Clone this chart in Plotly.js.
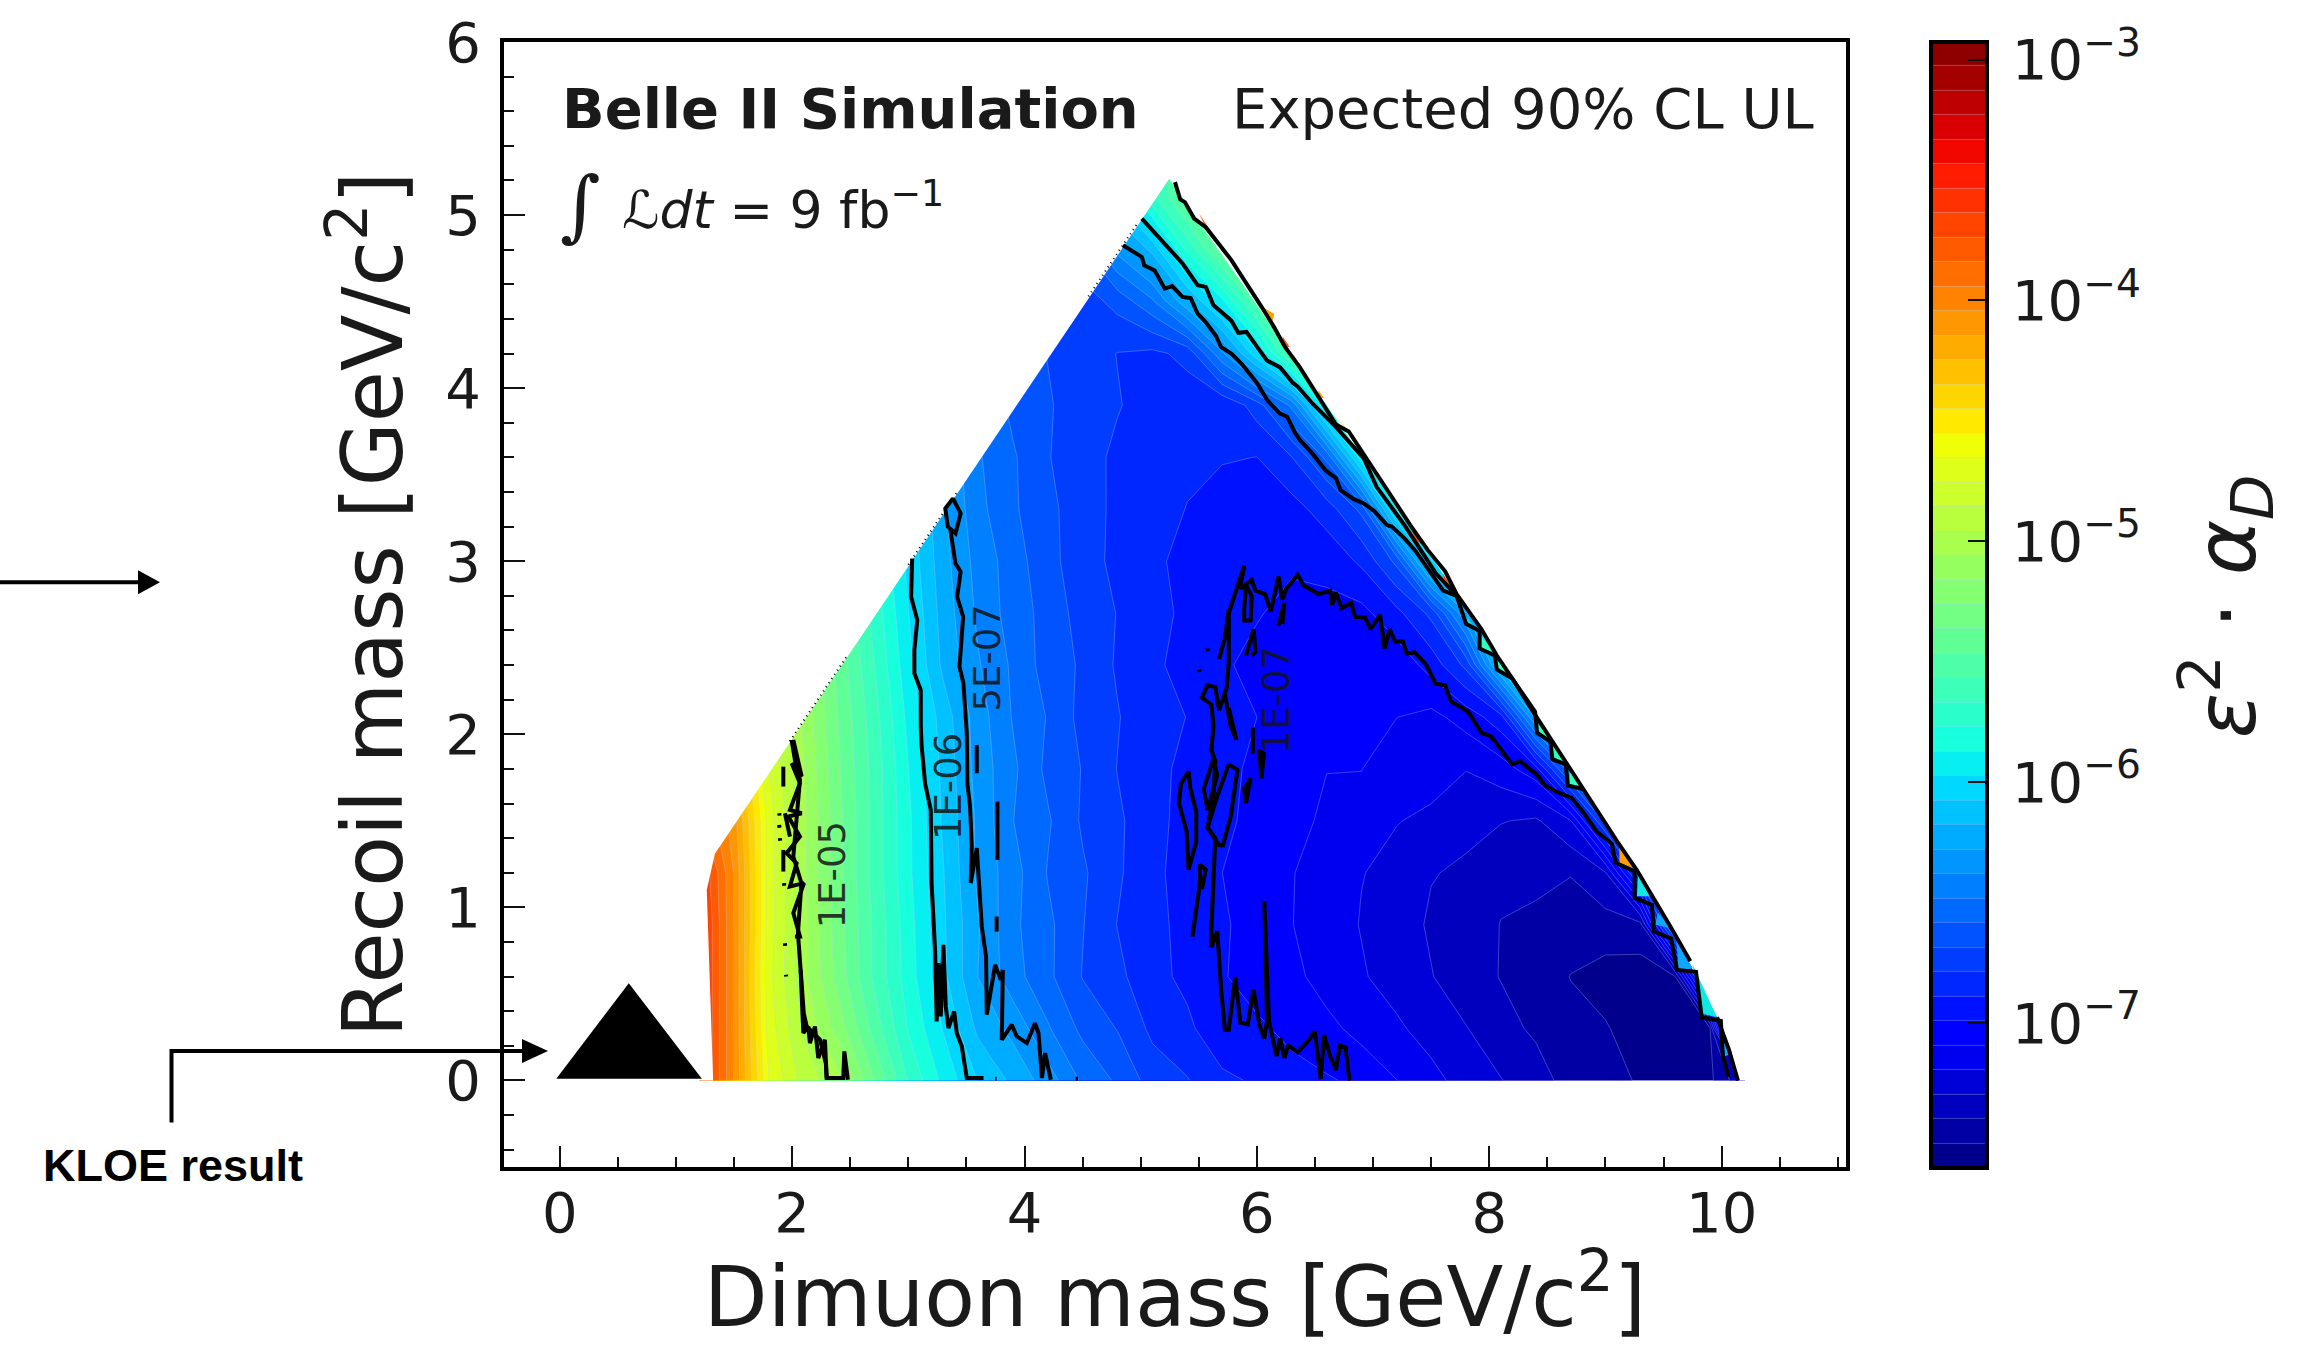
<!DOCTYPE html>
<html><head><meta charset="utf-8">
<script src="https://cdn.plot.ly/plotly-3.0.1.min.js"></script>
<style>html,body{margin:0;padding:0;background:#fff}#c{width:2311px;height:1346px}</style>
</head><body><div id="c"></div>
<script>
const massX=[1.2,1.5,1.8,2.1,2.4,2.7,3.0,3.3,3.6,3.9,4.2,4.5,4.8,5.1,5.4,5.7,6.0,6.3,6.6,6.9,7.2,7.5,7.8,8.1,8.4,8.7,9.0,9.3,9.6,9.9,10.2];
const recoilY=[0,0.3,0.6,0.9,1.2,1.5,1.8,2.1,2.4,2.7,3.0,3.3,3.6,3.9,4.2,4.5,4.8,5.1,5.4];
const logLimit=[
[-3.55,-4.05,-4.65,-4.9,-5.02,-5.35,-5.68,-5.9,-6.08,-6.2,-6.33,-6.5,-6.6,-6.73,-6.78,-6.87,-6.9,-6.95,-6.98,-7.01,-7.09,-7.15,-7.25,-7.29,-7.36,-7.43,-7.46,-7.51,-7.52,-7.52,-7.3],
[-3.55,-4.05,-4.7,-4.97,-5.2,-5.5,-5.78,-5.98,-6.2,-6.31,-6.47,-6.61,-6.69,-6.81,-6.87,-6.95,-6.97,-7.02,-7.06,-7.13,-7.17,-7.25,-7.29,-7.37,-7.41,-7.48,-7.49,-7.55,-7.56,-7.5,-5.5],
[-3.55,-4.05,-4.72,-5.03,-5.3,-5.58,-5.82,-6.05,-6.28,-6.44,-6.56,-6.69,-6.76,-6.86,-6.91,-6.98,-7.04,-7.06,-7.14,-7.18,-7.25,-7.29,-7.36,-7.4,-7.46,-7.5,-7.54,-7.55,-7.5,-6.4,-5],
[-3.55,-4.05,-4.7,-5.03,-5.32,-5.58,-5.83,-6.06,-6.27,-6.46,-6.56,-6.68,-6.79,-6.85,-6.93,-6.97,-7.05,-7.09,-7.13,-7.2,-7.24,-7.31,-7.33,-7.4,-7.42,-7.47,-7.44,-7.43,-6.4,-5,-4.5],
[-3.6,-4.05,-4.7,-5.04,-5.33,-5.6,-5.85,-6.07,-6.3,-6.44,-6.59,-6.67,-6.77,-6.87,-6.92,-6.99,-7.02,-7.09,-7.11,-7.19,-7.22,-7.29,-7.31,-7.37,-7.37,-7.39,-7.3,-6.7,-5,-5,-5],
[-3.8,-4.1,-4.7,-5.03,-5.33,-5.6,-5.85,-6.09,-6.3,-6.48,-6.57,-6.7,-6.77,-6.85,-6.93,-6.96,-7.03,-7.06,-7.11,-7.13,-7.19,-7.21,-7.27,-7.29,-7.31,-7.2,-6.65,-5.5,-5,-5,-5],
[-4,-4.2,-4.75,-5.05,-5.35,-5.6,-5.87,-6.1,-6.32,-6.46,-6.61,-6.69,-6.79,-6.85,-6.92,-6.95,-7.02,-7.04,-7.09,-7.09,-7.15,-7.16,-7.19,-7.14,-7.03,-6.5,-5.5,-5,-5,-5,-5],
[-4.2,-4.4,-4.8,-5.08,-5.37,-5.62,-5.9,-6.12,-6.33,-6.49,-6.59,-6.72,-6.78,-6.86,-6.89,-6.96,-6.99,-7.04,-7.05,-7.09,-7.09,-7.12,-7.05,-6.93,-6.25,-5.5,-5,-5,-5,-5,-5],
[-4.2,-4.4,-4.8,-5.1,-5.4,-5.66,-5.94,-6.2,-6.37,-6.5,-6.63,-6.7,-6.8,-6.86,-6.94,-6.97,-7.03,-7.03,-7.06,-7.05,-7.06,-6.95,-6.76,-6.1,-5.4,-5,-5,-5,-5,-5,-5],
[-4.2,-4.4,-4.85,-5.15,-5.45,-5.7,-5.97,-6.22,-6.4,-6.53,-6.62,-6.73,-6.79,-6.87,-6.9,-6.97,-6.98,-7.03,-7.02,-7.02,-6.92,-6.76,-6.28,-5.5,-5,-5,-5,-5,-5,-5,-5],
[-4.2,-4.4,-4.9,-5.2,-5.5,-5.75,-6,-6.24,-6.42,-6.53,-6.66,-6.73,-6.82,-6.86,-6.93,-6.95,-6.99,-6.97,-6.96,-6.87,-6.66,-6,-5.5,-5,-5,-5,-5,-5,-5,-5,-5],
[-4.2,-4.4,-4.9,-5.2,-5.5,-5.75,-6.02,-6.26,-6.45,-6.57,-6.65,-6.76,-6.8,-6.87,-6.89,-6.94,-6.93,-6.93,-6.84,-6.66,-5.9,-5.2,-5,-5,-5,-5,-5,-5,-5,-5,-5],
[-4.2,-4.4,-4.9,-5.2,-5.5,-5.75,-6.02,-6.28,-6.47,-6.57,-6.68,-6.74,-6.81,-6.83,-6.88,-6.88,-6.89,-6.79,-6.56,-5.9,-5.2,-5,-5,-5,-5,-5,-5,-5,-5,-5,-5],
[-4.2,-4.4,-4.9,-5.2,-5.5,-5.75,-6.02,-6.3,-6.48,-6.61,-6.67,-6.76,-6.78,-6.83,-6.84,-6.88,-6.74,-6.46,-5.8,-5.2,-5,-5,-5,-5,-5,-5,-5,-5,-5,-5,-5],
[-4.2,-4.4,-4.9,-5.2,-5.5,-5.75,-6.02,-6.3,-6.48,-6.59,-6.69,-6.73,-6.79,-6.81,-6.76,-6.4,-6,-5.5,-5.1,-5,-5,-5,-5,-5,-5,-5,-5,-5,-5,-5,-5],
[-4.2,-4.4,-4.9,-5.2,-5.5,-5.75,-6.02,-6.3,-6.48,-6.6,-6.68,-6.74,-6.65,-6.5,-6.2,-5.9,-5.5,-5.1,-5,-5,-5,-5,-5,-5,-5,-5,-5,-5,-5,-5,-5],
[-4.2,-4.4,-4.9,-5.2,-5.5,-5.75,-6.02,-6.3,-6.48,-6.6,-6.66,-6.6,-6.35,-6.15,-5.75,-5.4,-5.1,-5,-5,-5,-5,-5,-5,-5,-5,-5,-5,-5,-5,-5,-5],
[-4.2,-4.4,-4.9,-5.2,-5.5,-5.75,-6.02,-6.3,-6.48,-6.6,-6.6,-6.4,-6.05,-5.7,-5.4,-5.1,-5,-5,-5,-5,-5,-5,-5,-5,-5,-5,-5,-5,-5,-5,-5],
[-4.2,-4.4,-4.9,-5.2,-5.5,-5.75,-6.02,-6.3,-6.48,-6.6,-6.6,-6.4,-6.05,-5.7,-5.4,-5.1,-5,-5,-5,-5,-5,-5,-5,-5,-5,-5,-5,-5,-5,-5,-5]];

const regionX=[1.32,1.265,1.335,5.245,7.47,8.8,9.27,9.73,9.96,10.15,11.07,11.07,-0.48,-0.48,1.32];
const regionY=[0,1.1,1.31,5.21,3.06,1.7,1.217,0.667,0.365,0,0,6,6,0,0];

const contour1e5X=[1.995,2.024,2.067,2.038,2.01,2.08,2.05,2.073,2.1,2.125,2.24,2.29,2.297,2.44,2.449,2.48,null,2.01,2.082,1.996,2.067,1.981,2.082,1.967,2.067,1.952,2.038,1.981,2.102,2.01,2.067,2.024,null,1.924,1.924,null,1.938,1.981,null,1.924,1.924,null,2.073,2.096,2.139,2.153,2.196,2.225,2.282,2.297,null,1.889,1.891,null,1.889,1.891,null,1.895,1.897,null,1.93,1.932,null,1.938,1.94,null,1.947,1.949];
const contour1e5Y=[1.967,1.852,1.736,1.525,1.294,1.14,0.851,0.639,0.389,0.312,0.235,0.1,0.014,0.014,0.168,0.004,null,1.967,1.756,1.833,1.717,1.563,1.544,1.525,1.409,1.313,1.255,1.121,1.14,0.967,0.832,0.832,null,1.813,1.698,null,1.544,1.409,null,1.332,1.207,null,0.639,0.274,0.312,0.216,0.312,0.129,0.235,0.014,null,1.544,1.53,null,1.477,1.46,null,1.4,1.385,null,1.14,1.125,null,0.793,0.778,null,0.611,0.6];
const contour1e6X=[3.033,3.024,3.077,3.055,3.052,3.052,3.107,3.107,3.115,3.144,3.193,3.2,3.23,3.244,3.259,3.279,3.302,3.322,3.345,3.394,3.417,3.46,3.503,3.647];
const contour1e6Y=[3.016,2.795,2.66,2.487,2.487,2.352,2.256,2.044,1.929,1.717,1.563,1.14,0.755,0.341,0.678,0.37,0.784,0.428,0.303,0.399,0.274,0.197,0.014,0.014];
const contour5e7X=[3.384,3.318,3.34,3.406,3.45,3.384,null,3.362,3.406,3.45,3.42,3.472,3.45,3.44,3.474,3.503,3.508,3.531,3.546,3.537,3.589,3.632,3.669,3.675,3.747,3.796,3.813,3.804,3.89,3.933,4.02,4.09,4.12,4.15,4.177,4.226,null,3.589,3.589,null,3.767,3.767,null,3.76,3.76,null,3.746,3.76,null,4.44,4.46];
const contour5e7Y=[3.363,3.305,3.199,3.161,3.276,3.363,null,3.18,2.987,2.94,2.795,2.68,2.487,2.39,2.295,2.006,1.717,1.583,1.352,1.14,1.342,0.89,0.716,0.38,0.668,0.582,0.639,0.235,0.322,0.255,0.216,0.331,0.274,0.014,0.158,0.004,null,1.938,1.775,null,1.611,1.274,null,0.947,0.86,null,0.01,0.01,null,0.01,0.01];
const contour1e7X=[6.796,6.763,6.714,6.68,6.63,6.58,6.549,6.499,6.433,6.351,6.269,6.236,6.2,6.17,6.104,6.064,6.087,6.064,6.021,5.97,5.922,5.857,5.814,5.758,5.725,5.692,5.659,5.609,5.609,5.636,5.642,5.576,5.626,5.642,5.609,5.626,5.609,5.527,5.576,5.642,5.675,5.741,5.758,5.758,5.84,5.89,5.857,5.955,5.988,6.07,6.12,6.186,6.219,6.252,6.351,6.4,6.532,6.631,6.648,6.68,6.73,6.812,6.845,6.928,6.977,7.06,7.099,7.142,7.191,7.257,7.29,7.356,7.455,7.537,7.62,7.669,7.818,7.933,8.015,8.114,8.197,8.263,8.411,8.477,8.592,8.708,8.806,8.922,9.054,9.087,9.251,9.251,9.4,9.416,9.565,9.614,9.779,9.828,9.993,10.01,10.06];
const contour1e7Y=[0,0.192,0.202,0.06,0.141,0.263,0.009,0.283,0.222,0.162,0.202,0.131,0.243,0.141,0.344,1.034,0.344,0.243,0.324,0.527,0.324,0.334,0.598,0.293,0.293,0.527,0.862,0.77,0.882,1.237,1.4,1.461,1.643,1.846,1.907,2.049,2.171,2.212,2.283,2.272,2.14,2.272,2.415,2.699,2.861,2.973,2.841,2.891,2.83,2.81,2.709,2.912,2.78,2.841,2.922,2.861,2.81,2.83,2.749,2.82,2.729,2.76,2.678,2.678,2.607,2.689,2.496,2.607,2.536,2.536,2.465,2.475,2.404,2.293,2.283,2.191,2.13,2.009,1.988,1.897,1.826,1.846,1.765,1.704,1.664,1.633,1.552,1.44,1.369,1.258,1.207,1.055,1.014,0.862,0.821,0.639,0.628,0.365,0.344,0.141,0.02];
const island1e7X=[5.412,5.346,5.329,5.395,5.412,5.478,5.478,5.428,5.412,null,5.445,5.51,5.51,5.56,5.527,null,5.543,5.626,5.659,5.576,5.543,null,5.758,5.833,5.774,5.708,5.675,5.576,5.659,5.758,null,5.906,5.946,5.89,5.906,null,6.038,6.021,6.061,6.038,null,5.965,5.965,null,5.906,5.972,5.988,5.955,null,5.675,5.725,5.758,null,5.758,5.824,5.774,5.725,null,5.89,5.906,5.955,5.946,5.89,5.89,null,6.186,6.236,6.219,null,5.576,5.58,null,5.504,5.508];
const island1e7Y=[1.785,1.714,1.603,1.44,1.217,1.379,1.552,1.684,1.785,null,0.831,1.136,1.247,1.217,1.105,null,1.684,1.856,1.765,1.562,1.684,null,1.826,1.795,1.521,1.359,1.359,1.461,1.643,1.826,null,1.603,1.745,1.684,1.603,null,1.745,1.907,1.887,1.745,null,2.039,1.887,null,2.455,2.607,2.475,2.455,null,2.435,2.557,2.719,null,2.151,1.968,2.049,2.232,null,2.719,2.861,2.8,2.658,2.658,2.719,null,2.628,2.76,2.638,null,2.496,2.48,null,2.374,2.36];
const edge5e7X=[4.847,5.01,5.03,5.12,5.207,5.27,5.36,5.43,5.49,5.56,5.65,5.69,5.78,5.867,6.0,6.09,6.196,6.26,6.33,6.37,6.48,6.59,6.68,6.72,6.83,6.92,7.01,7.12,7.16,7.27,7.36,7.603,7.719,7.8,7.917,7.917,8.048,8.065,8.197,8.394,8.411,8.526,8.543,8.658,8.675,8.806];
const edge5e7Y=[4.826,4.758,4.71,4.68,4.575,4.59,4.527,4.52,4.43,4.38,4.3,4.238,4.2,4.142,4.03,3.93,3.854,3.835,3.74,3.7,3.62,3.526,3.48,3.41,3.36,3.334,3.29,3.209,3.2,3.132,3.064,2.83,2.8,2.638,2.597,2.496,2.455,2.374,2.323,2.13,2.009,1.958,1.856,1.826,1.704,1.684];
const edge1e6X=[5.01,5.12,5.25,5.36,5.49,5.56,5.625,5.71,5.78,5.84,5.91,6.0,6.086,6.2,6.31,6.35,6.48,6.66,6.92,7.03,7.27,7.54,7.72];
const edge1e6Y=[4.98,4.9,4.806,4.72,4.595,4.585,4.48,4.43,4.39,4.32,4.325,4.24,4.16,4.12,4.03,4.01,3.91,3.79,3.594,3.43,3.209,2.93,2.8];
const edge1e5X=[5.295,5.34,5.38,5.46,5.56,5.78,6.04,6.15,6.24,6.37,6.53,6.68,6.79,6.94,7.1,7.32,7.471,7.62,7.719,7.933,8.065,8.197,8.378,8.543,8.806,9.103,9.268,9.433,9.565,9.73,null,9.96,10.06,10.14];
const edge1e5Y=[5.19,5.09,5.075,4.98,4.93,4.74,4.47,4.35,4.24,4.12,3.95,3.79,3.75,3.594,3.43,3.209,3.064,2.942,2.81,2.607,2.455,2.323,2.13,1.958,1.684,1.379,1.217,1.034,0.882,0.689,null,0.365,0.182,0];
const diagonalDotsX=[1.98,2.47,null,3.0,3.42,null,4.55,4.98];
const diagonalDotsY=[1.96,2.45,null,2.98,3.4,null,4.53,4.96];

const kloeX=[-0.03,0.594,1.223,-0.03];
const kloeY=[0.01,0.562,0.01,0.01];

const patches=[
 {color:'#30ffc0',x:[7.92,7.92,8.03,null,8.065,8.065,8.164,null,8.41,8.41,8.53,null,8.54,8.54,8.66,null,8.69,8.69,8.81,null,7.1,7.23,7.29],y:[2.58,2.49,2.48,null,2.435,2.374,2.343,null,2.07,2.01,1.97,null,1.95,1.86,1.83,null,1.8,1.7,1.68,null,3.43,3.27,3.21]},
 {color:'#10e8e0',x:[7.8,7.82,7.88,null,9.28,9.27,9.38,null,9.75,9.83,9.96],y:[2.68,2.63,2.61,null,1.19,1.065,1.065,null,0.67,0.385,0.365]},
 {color:'#10a8ff',x:[9.45,9.43,9.565,null,9.61,9.63,9.75,null,9.99,10.03,10.09],y:[0.97,0.9,0.88,null,0.81,0.63,0.65,null,0.3,0.14,0.16]},
 {color:'#ff4a10',x:[5.5,5.56,5.69,null,6.22,6.24,6.28,null,7.32,7.36,7.44,null,7.6,7.62,7.71],y:[5.01,4.93,4.82,null,4.3,4.23,4.24,null,3.21,3.12,3.09,null,2.93,2.85,2.81]},
 {color:'#ffa000',x:[9.12,9.12,9.27,null,6.04,6.13,6.15,null,6.53,6.53,6.58,null,6.68,6.75,6.77],y:[1.38,1.26,1.217,null,4.47,4.37,4.43,null,3.99,3.95,3.94,null,3.83,3.78,3.77]},
 {color:'#ffe000',x:[6.855,6.9,6.93],y:[3.64,3.6,3.6]}
];

const cbTickVals=[-3,-4,-5,-6,-7];
const cbTickText=['\u200910<sup>\u22123</sup>','\u200910<sup>\u22124</sup>','\u200910<sup>\u22125</sup>','\u200910<sup>\u22126</sup>','\u200910<sup>\u22127</sup>'];
const cbMinor=[-3.25,-3.5,-3.75,-4.25,-4.5,-4.75,-5.25,-5.5,-5.75,-6.25,-6.5,-6.75,-7.25,-7.5];
const zMin=-7.6, zMax=-2.925;

const contourLabels=[
 {t:'1E-05',x:2.35,y:1.19},{t:'1E-06',x:3.34,y:1.7},{t:'5E-07',x:3.68,y:2.44},{t:'1E-07',x:6.17,y:2.2}
];

const jet=[[0,'rgb(0,0,127)'],[0.11,'rgb(0,0,255)'],[0.125,'rgb(0,0,255)'],[0.34,'rgb(0,219,255)'],[0.35,'rgb(0,230,247)'],[0.375,'rgb(20,255,226)'],[0.64,'rgb(239,255,8)'],[0.65,'rgb(247,246,0)'],[0.66,'rgb(255,236,0)'],[0.89,'rgb(255,19,0)'],[0.91,'rgb(232,0,0)'],[1,'rgb(127,0,0)']];

const W=2311,H=1346,L=504,R=1846,T=41.5,B=1167;
const px=X=>(X-L)/(R-L), py=Y=>(B-Y)/(B-T);
const font='"DejaVu Sans", sans-serif';
const ink='#1a1a1a';

const line=(x,y,w)=>({x,y,type:'scatter',mode:'lines',hoverinfo:'skip',showlegend:false,line:{color:'#000',width:w||4,shape:'linear'},connectgaps:false});
const traces=[
 {type:'contour',x:massX,y:recoilY,z:logLimit,zmin:zMin,zmax:zMax,zauto:false,autocontour:false,colorscale:jet,
  contours:{start:zMin,end:zMax,size:(zMax-zMin)/46,coloring:'fill',showlines:true},
  line:{color:'rgba(190,205,255,0.4)',width:0.8,smoothing:0},
  colorbar:{x:(1931-L)/(R-L),xanchor:'left',xref:'paper',y:0.5,yanchor:'middle',yref:'paper',thicknessmode:'pixels',thickness:56,lenmode:'pixels',len:B-T,xpad:0,ypad:0,
   outlinecolor:'#000',outlinewidth:4,ticks:'inside',ticklen:21,tickwidth:2,tickcolor:'#111',tickmode:'array',tickvals:cbTickVals,ticktext:cbTickText,tickfont:{family:font,size:56,color:ink},ticklabelposition:'outside'}},
 {x:regionX,y:regionY,type:'scatter',mode:'none',fill:'toself',fillcolor:'#fff',hoverinfo:'skip',showlegend:false}
];
patches.forEach(p=>traces.push({x:p.x,y:p.y,type:'scatter',mode:'none',fill:'toself',fillcolor:p.color,hoverinfo:'skip',showlegend:false}));
traces.push({x:kloeX,y:kloeY,type:'scatter',mode:'none',fill:'toself',fillcolor:'#000',hoverinfo:'skip',showlegend:false});
traces.push(line(contour1e5X,contour1e5Y));
traces.push(line(contour1e6X,contour1e6Y));
traces.push(line(contour5e7X,contour5e7Y));
traces.push(line(contour1e7X,contour1e7Y));
traces.push(line(island1e7X,island1e7Y));
traces.push(line(edge5e7X,edge5e7Y));
traces.push(line(edge1e6X,edge1e6Y));
traces.push(line(edge1e5X,edge1e5Y));
traces.push({x:diagonalDotsX,y:diagonalDotsY,type:'scatter',mode:'lines',hoverinfo:'skip',showlegend:false,line:{color:'#000',width:2,dash:'1px 4px'}});

const ann=(text,X,Y,size,opt)=>Object.assign({text,x:px(X),y:py(Y),xref:'paper',yref:'paper',showarrow:false,xanchor:'left',yanchor:'middle',font:{family:font,size,color:ink}},opt||{});
const annotations=[
 ann('<b>Belle II Simulation</b>',560,108,56),
 ann('Expected 90% CL UL',1816,108,56,{xanchor:'right'}),
 ann('\u222B',558,205,78,{font:{family:'"DejaVu Serif", serif',size:78,color:ink}}),
 ann('<i>\u2112dt</i> = 9 fb<sup>\u22121</sup>',620,206,52),
 ann('KLOE result',41,1165,45,{font:{family:'"Liberation Sans", sans-serif',size:45,color:'#000'},text:'<b>KLOE result</b>'}),
 ann('<i>\u03B5</i><sup>2</sup> \u00B7 <i>\u03B1<sub>D</sub></i>',2226,606,84,{xanchor:'center',textangle:-90})
];
contourLabels.forEach(l=>annotations.push({text:l.t,x:l.x,y:l.y,xref:'x',yref:'y',showarrow:false,textangle:-90,font:{family:font,size:37,color:'rgba(20,20,20,0.85)'}}));

const shapes=[];
const seg=(x0,y0,x1,y1,w)=>shapes.push({type:'line',xref:'paper',yref:'paper',x0:px(x0),y0:py(y0),x1:px(x1),y1:py(y1),line:{color:'#000',width:w}});
const head=(x0,x1,y,h)=>shapes.push({type:'path',xref:'paper',yref:'paper',path:`M${px(x0)},${py(y-h)} L${px(x1)},${py(y)} L${px(x0)},${py(y+h)} Z`,fillcolor:'#000',line:{width:0}});
seg(0,582,140,582,4); head(138,160,582,12);
seg(171.5,1122.5,171.5,1049,4); seg(170,1051,525,1051,4); head(522,548,1051,12);
cbMinor.forEach(v=>{const Y=B-(v-zMin)/(zMax-zMin)*(B-T); seg(1976,Y,1986,Y,2);});

Plotly.newPlot('c',traces,{
 width:W,height:H,paper_bgcolor:'#fff',plot_bgcolor:'#fff',showlegend:false,
 margin:{l:L,r:W-R,t:T,b:H-B,pad:0,autoexpand:false},
 font:{family:font,color:ink},
 xaxis:{range:[-0.48,11.07],tickmode:'array',tickvals:[0,2,4,6,8,10],ticks:'inside',ticklen:21,tickwidth:2,tickcolor:'#111',
  minor:{dtick:0.5,ticks:'inside',ticklen:10,tickwidth:2,tickcolor:'#111',showgrid:false},
  showgrid:false,zeroline:false,showline:true,linecolor:'#000',linewidth:4,mirror:true,tickfont:{family:font,size:56,color:ink},ticklabelstandoff:-6,
  automargin:false,title:{text:'Dimuon mass [GeV/c<sup>2</sup>]',font:{family:font,size:83,color:ink},standoff:57}},
 yaxis:{range:[-0.5,6],tickmode:'array',tickvals:[0,1,2,3,4,5,6],ticks:'inside',ticklen:21,tickwidth:2,tickcolor:'#111',
  minor:{dtick:0.2,ticks:'inside',ticklen:10,tickwidth:2,tickcolor:'#111',showgrid:false},
  showgrid:false,zeroline:false,showline:true,linecolor:'#000',linewidth:4,mirror:true,tickfont:{family:font,size:56,color:ink},ticklabelstandoff:8,
  automargin:false,title:{text:'Recoil mass [GeV/c<sup>2</sup>]',font:{family:font,size:83,color:ink},standoff:16}},
 annotations,shapes
},{displayModeBar:false,staticPlot:true});
</script></body></html>
